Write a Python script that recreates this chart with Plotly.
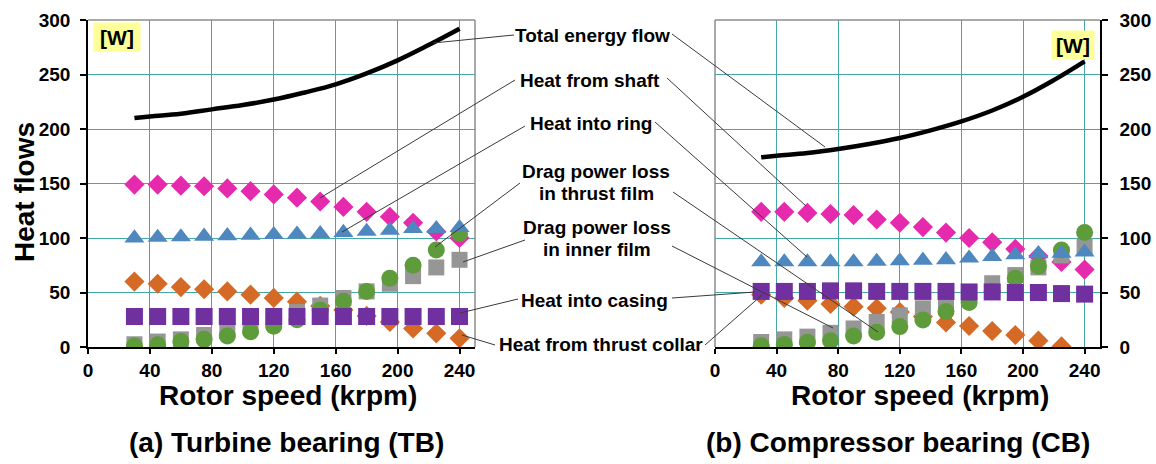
import plotly.graph_objects as go

# ---------------- data ----------------
speed = [30, 45, 60, 75, 90, 105, 120, 135, 150, 165, 180, 195, 210, 225, 240]

# Turbine bearing (TB)
tb_shaft = [149, 149, 148, 147.5, 145.5, 143, 140, 137, 133.5, 128.5, 124, 119.5, 114, 106, 100]
tb_ring = [100, 100.5, 101, 101.5, 102, 102.5, 103, 103.5, 104, 105, 106, 107, 108.5, 108.5, 109.5]
tb_thrust = [1, 2, 5, 7, 10, 14, 19, 25, 34, 42, 51, 63, 75, 89, 104]
tb_inner = [2.5, 5, 7, 11, 15, 19, 24, 32, 38, 45, 51, 58, 65, 73, 80]
tb_casing = [28, 28, 28, 28, 28, 28, 28, 28, 28, 28, 28, 28, 28, 28, 28]
tb_collar = [60, 58, 55, 53, 51, 48, 45, 41.6, 37.7, 34, 28.5, 23, 17, 12.5, 8]

line_speed = [30, 40, 60, 80, 100, 120, 140, 160, 180, 200, 220, 240]
tb_total = [210, 211.5, 214, 218, 222, 227, 233.5, 241, 251, 263, 277, 292]

# Compressor bearing (CB)
cb_shaft = [124, 124, 123, 122, 121, 117, 114, 110, 105, 100, 96, 90, 83.5, 78, 71]
cb_ring = [78, 78, 78, 78, 78, 78.5, 79, 79.5, 80, 81.5, 83, 84.5, 85.5, 86, 87]
cb_thrust = [1.2, 2.4, 4.3, 5.8, 10, 13.5, 18.7, 24.8, 32.5, 40.8, 51, 63, 74, 89, 105]
cb_inner = [4.6, 7, 9.5, 13, 17, 23, 29, 35.5, 41.6, 47, 58.5, 66, 73, 84, 92]
cb_casing = [51, 51, 51, 51.5, 51.5, 51, 51, 51, 51, 50.5, 50.5, 50, 50, 49, 48.5]
cb_collar = [48, 45, 42.5, 39.5, 37, 35.5, 32, 28, 22.5, 19.3, 14.7, 11, 5.8, 0.5, None]
cb_total = [174, 175.5, 178, 181.7, 186.3, 191.8, 198.8, 207, 217, 229.5, 244.8, 262]

x_ticks = [0, 40, 80, 120, 160, 200, 240]
y_ticks = [0, 50, 100, 150, 200, 250, 300]

label_total = "Total energy flow"
label_shaft = "Heat from shaft"
label_ring = "Heat into ring"
label_thrust = ["Drag power loss", "in thrust film"]
label_inner = ["Drag power loss", "in inner film"]
label_casing = "Heat into casing"
label_collar = "Heat from thrust collar"

# ---------------- style ----------------
W, H = 1156, 464
FONT = "Liberation Sans, Arial, sans-serif"
C_PINK = "#E62AAE"
C_BLUE = "#4E88BF"
C_GREEN = "#5E9B3A"
C_GRAY = "#969696"
C_PURPLE = "#7030A0"
C_ORANGE = "#D56A27"
C_GRID = "#45A8A8"
C_BORDER = "#8C8C8C"


def px(x):
    return x / W


def py(y):
    return 1 - y / H


fig = go.Figure()


def add_series(xa, ya, collar, shaft, inner, thrust, ring, casing, total):
    specs = [
        (collar, "diamond", C_ORANGE, 15.5),
        (shaft, "diamond", C_PINK, 15.5),
        (inner, "square", C_GRAY, 16),
        (thrust, "circle", C_GREEN, 17),
        (ring, "triangle-up", C_BLUE, 17.5),
        (casing, "square", C_PURPLE, 17),
    ]
    for vals, sym, col, sz in specs:
        fig.add_trace(go.Scatter(
            x=speed, y=vals, mode="markers", xaxis=xa, yaxis=ya,
            marker=dict(symbol=sym, color=col, size=sz, line=dict(width=0)),
            showlegend=False, hoverinfo="skip"))
    fig.add_trace(go.Scatter(
        x=line_speed, y=total, mode="lines", xaxis=xa, yaxis=ya,
        line=dict(color="black", width=4.5, shape="spline", smoothing=1.2),
        showlegend=False, hoverinfo="skip"))


add_series("x", "y", tb_collar, tb_shaft, tb_inner, tb_thrust, tb_ring, tb_casing, tb_total)
add_series("x2", "y2", cb_collar, cb_shaft, cb_inner, cb_thrust, cb_ring, cb_casing, cb_total)

tickfont = dict(family=FONT, size=19, color="black", weight="bold")
xcommon = dict(range=[0, 250], tickvals=x_ticks, showgrid=True, gridcolor=C_GRID, gridwidth=1,
               showline=True, linecolor="black", linewidth=1.5, ticks="outside", ticklen=5,
               tickcolor="black", tickwidth=1.5, zeroline=False, tickfont=tickfont, automargin=False,
               fixedrange=True, ticklabelstandoff=0)
ycommon = dict(range=[0, 300], tickvals=y_ticks, showgrid=True, gridcolor=C_GRID, gridwidth=1,
               showline=True, linecolor="black", linewidth=1.5, ticks="outside", ticklen=6,
               tickcolor="black", tickwidth=1.5, zeroline=False, tickfont=tickfont, automargin=False,
               fixedrange=True, domain=[py(347), py(20)])

fig.update_layout(
    width=W, height=H,
    margin=dict(l=0, r=0, t=0, b=0),
    paper_bgcolor="white", plot_bgcolor="white",
    font=dict(family=FONT, color="black"),
    xaxis=dict(domain=[px(88), px(475)], anchor="y", **xcommon),
    yaxis=dict(anchor="x", side="left", ticklabelstandoff=6, **ycommon),
    xaxis2=dict(domain=[px(715), px(1100)], anchor="y2", **xcommon),
    yaxis2=dict(anchor="x2", side="right", ticklabelstandoff=8, **ycommon),
)

shapes = []
# plot borders (gray)
for xr, yr, pts in [("x domain", "y domain", [(0, 1, 1, 1), (1, 0, 1, 1)]),
                    ("x2 domain", "y2 domain", [(0, 1, 1, 1), (0, 0, 0, 1)])]:
    for x0, y0, x1, y1 in pts:
        shapes.append(dict(type="line", xref=xr, yref=yr, x0=x0, y0=y0, x1=x1, y1=y1,
                           line=dict(color=C_BORDER, width=1.5), layer="above"))

# leader lines (pixel positions in the figure)
leaders = [
    ((433, 43), (514, 35)), ((320, 198), (515, 80)), ((342, 232), (525, 126)),
    ((435, 247), (520, 183)), ((463, 262), (525, 240)), ((460, 313), (518, 299)),
    ((462, 335), (495, 345)),
    ((672, 34), (825, 147)), ((667, 78), (806, 206)), ((655, 122), (807, 257)),
    ((673, 192), (878, 332)), ((672, 246), (833, 328)), ((672, 298), (755, 292)),
    ((705, 345), (762, 295)),
]
for (x0, y0), (x1, y1) in leaders:
    shapes.append(dict(type="line", xref="paper", yref="paper", x0=px(x0), y0=py(y0),
                       x1=px(x1), y1=py(y1), line=dict(color="#3a3a3a", width=1), layer="above"))
fig.update_layout(shapes=shapes)

ann = []


def text(x, y, s, size, **kw):
    ann.append(dict(x=px(x), y=py(y), xref="paper", yref="paper", text=s, showarrow=False,
                    xanchor="center", yanchor="middle",
                    font=dict(family=FONT, size=size, color="black", weight="bold"), **kw))


text(592, 35, label_total, 19)
text(590, 80, label_shaft, 19)
text(591, 123, label_ring, 19)
text(596, 171, label_thrust[0], 19)
text(596, 193, label_thrust[1], 19)
text(597, 227, label_inner[0], 19)
text(597, 249, label_inner[1], 19)
text(594, 300, label_casing, 19)
text(601, 344, label_collar, 19)

text(288, 395, "Rotor speed (krpm)", 28)
text(920, 395, "Rotor speed (krpm)", 28)
text(286, 442, "(a) Turbine bearing (TB)", 28)
text(898, 442, "(b) Compressor bearing (CB)", 28)
text(25, 192, "Heat flows", 28, textangle=-90)

text(117, 37, "[W]", 21, bgcolor="#FFFF99", width=44, height=26, borderpad=1)
text(1073, 45, "[W]", 21, bgcolor="#FFFF99", width=40, height=26, borderpad=1)

fig.update_layout(annotations=ann)

fig.write_html("out.html")
